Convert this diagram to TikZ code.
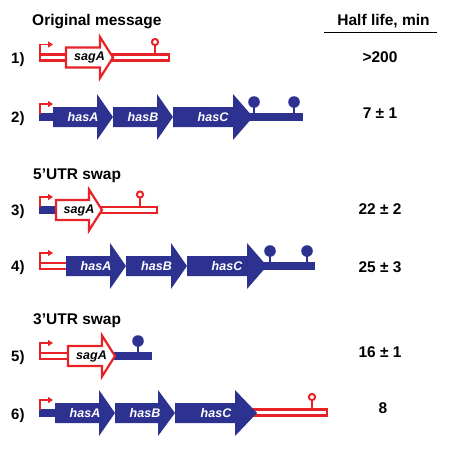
\documentclass[tikz,border=0pt]{standalone}
\usepackage{fontspec}
\setmainfont{Liberation Sans}
\usetikzlibrary{arrows.meta}
\definecolor{hasblue}{RGB}{45,50,145}
\definecolor{sagred}{RGB}{232,35,40}
\tikzstyle{bluegene} = [fill=hasblue, draw=none]
\tikzstyle{redgene} = [fill=white, draw=sagred, line width=2.2pt, line join=miter]
\tikzstyle{blueutr} = [fill=hasblue, draw=none]
\tikzstyle{redutr} = [fill=white, draw=sagred, line width=2.1pt]
\tikzstyle{promoter} = [draw=sagred, line width=1.7pt, -{Triangle[length=5pt,width=6pt]}]
\tikzstyle{heading} = [font=\fontsize{15.5}{18}\selectfont\bfseries, inner sep=0pt]
\tikzstyle{rowlabel} = [font=\fontsize{15}{18}\selectfont\bfseries, anchor=base west, inner sep=0pt]
\tikzstyle{halflife} = [font=\fontsize{15.5}{18}\selectfont\bfseries, anchor=base, inner sep=0pt]
\tikzstyle{genelabel} = [font=\fontsize{12.5}{14}\selectfont\bfseries\itshape, inner sep=0pt]

% blue gene: start, head base, tip, axis, name, label
\newcommand{\hasgene}[6]{%
  \fill[bluegene] (#1,#4-10) -- (#2,#4-10) -- (#2,#4-23) -- (#3,#4) -- (#2,#4+23) -- (#2,#4+10) -- (#1,#4+10) -- cycle;
  \node[genelabel, text=white] (#5) at ({(#1+#3)/2},#4) {#6};}
% red gene: start, head base, tip, axis, name
\newcommand{\saggene}[5]{%
  \draw[redgene] (#1,#4-10) -- (#2,#4-10) -- (#2,#4-20.5) -- (#3,#4) -- (#2,#4+20.5) -- (#2,#4+10) -- (#1,#4+10) -- cycle;
  \node[genelabel, text=black] (#5) at ({(#1+#3)/2},#4) {sagA};}
% terminators
\newcommand{\bluestem}[2]{%
  \draw[hasblue, line width=2.2pt] (#1,#2) -- (#1,#2-12);
  \fill[hasblue] (#1,#2-15) circle (5.8);}
\newcommand{\redstem}[2]{%
  \draw[sagred, line width=2pt] (#1,#2-3) -- (#1,#2-12.5);
  \draw[sagred, fill=white, line width=2pt] (#1,#2-15.5) circle (3.1);}
% transcription start
\newcommand{\startsite}[1]{\draw[promoter] (39.9,#1-3) -- (39.9,#1-13) -- (53,#1-13);}

\begin{document}
\begin{tikzpicture}[x=1pt, y=-1pt]
\useasboundingbox (0,0) rectangle (450,448);

% Headings
\node[heading, anchor=base west] (orig) at (32,25.5) {Original message};
\node[heading, anchor=base] (half) at (383.5,25.5) {Half life, min};
\draw[line width=1pt] (324,32) -- (437,32);
\node[heading, anchor=base west] (five) at (33,179.5) {5’UTR swap};
\node[heading, anchor=base west] (three) at (33,324.5) {3’UTR swap};

% Row 1
\node[rowlabel] (lab1) at (11,63) {1)};
\draw[redutr] (40,54.5) rectangle (169,60.5);
\saggene{66}{100}{113}{57.5}{sag1}
\redstem{155}{57.5}
\startsite{57.5}
\node[halflife] (val1) at (380,62.5) {>200};

% Row 2
\node[rowlabel] (lab2) at (11,122.5) {2)};
\fill[blueutr] (39,113) rectangle (57,121);
\fill[blueutr] (245,113) rectangle (303,121);
\hasgene{53}{97}{113}{117}{hasA2}{hasA}
\hasgene{113}{157}{173}{117}{hasB2}{hasB}
\hasgene{173}{233}{253}{117}{hasC2}{hasC}
\bluestem{254}{117}
\bluestem{294}{117}
\startsite{117}
\node[halflife] (val2) at (380,118.5) {7 ± 1};

% Row 3
\node[rowlabel] (lab3) at (11,215.5) {3)};
\fill[blueutr] (39,206) rectangle (58,214);
\draw[redutr] (95,207) rectangle (157,213);
\saggene{56}{89}{102}{210}{sag3}
\redstem{140}{210}
\startsite{210}
\node[halflife] (val3) at (380,214.5) {22 ± 2};

% Row 4
\node[rowlabel] (lab4) at (11,271.5) {4)};
\draw[redutr] (40,263) rectangle (70,269);
\fill[blueutr] (260,262) rectangle (315,270);
\hasgene{66}{110}{126}{266}{hasA4}{hasA}
\hasgene{126}{171}{187}{266}{hasB4}{hasB}
\hasgene{187}{247}{267}{266}{hasC4}{hasC}
\bluestem{270}{266}
\bluestem{307}{266}
\startsite{266}
\node[halflife] (val4) at (380,272.5) {25 ± 3};

% Row 5
\node[rowlabel] (lab5) at (11,361.5) {5)};
\draw[redutr] (40,353) rectangle (72,359);
\fill[blueutr] (108,352) rectangle (152,360);
\saggene{68}{102}{115}{356}{sag5}
\bluestem{138}{356}
\startsite{356}
\node[halflife] (val5) at (380,357.5) {16 ± 1};

% Row 6
\node[rowlabel] (lab6) at (11,419.5) {6)};
\fill[blueutr] (39,409) rectangle (58,417);
\draw[redutr] (250,409.5) rectangle (327,415.5);
\hasgene{55}{99}{115}{413}{hasA6}{hasA}
\hasgene{115}{158}{175}{413}{hasB6}{hasB}
\hasgene{175}{235}{257}{413}{hasC6}{hasC}
\redstem{312}{412.5}
\startsite{413}
\node[halflife] (val6) at (383,413.5) {8};

\end{tikzpicture}
\end{document}
